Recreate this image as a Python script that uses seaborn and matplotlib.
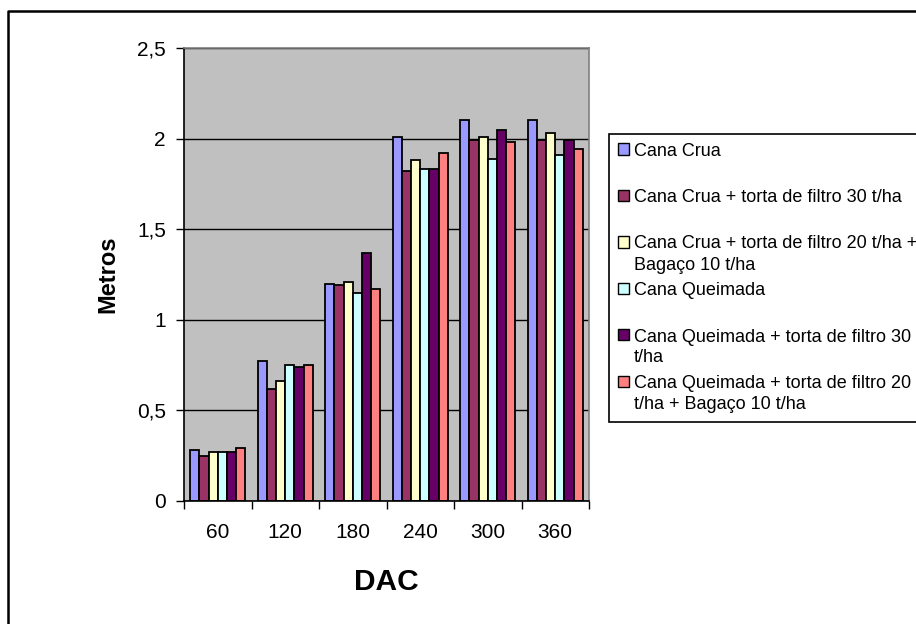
import numpy as np
import pandas as pd
import seaborn as sns
import matplotlib
matplotlib.use("Agg")
import matplotlib.pyplot as plt
from matplotlib.patches import Rectangle
from matplotlib.lines import Line2D
from matplotlib.ticker import FixedLocator

# ---------------- data ----------------
dac = ["60", "120", "180", "240", "300", "360"]
treatments = [
    "Cana Crua",
    "Cana Crua + torta de filtro 30 t/ha",
    "Cana Crua + torta de filtro 20 t/ha +\nBagaço 10 t/ha",
    "Cana Queimada",
    "Cana Queimada + torta de filtro 30\nt/ha",
    "Cana Queimada + torta de filtro 20\nt/ha + Bagaço 10 t/ha",
]
cana_crua = [0.28, 0.77, 1.20, 2.01, 2.10, 2.10]
crua_torta30 = [0.25, 0.62, 1.19, 1.82, 1.99, 1.99]
crua_torta20_bagaco = [0.27, 0.66, 1.21, 1.88, 2.01, 2.03]
queimada = [0.27, 0.75, 1.15, 1.83, 1.89, 1.91]
queimada_torta30 = [0.27, 0.74, 1.37, 1.83, 2.05, 1.99]
queimada_torta20_bagaco = [0.29, 0.75, 1.17, 1.92, 1.98, 1.94]
series = [cana_crua, crua_torta30, crua_torta20_bagaco,
          queimada, queimada_torta30, queimada_torta20_bagaco]
colors = ["#9999FF", "#993366", "#FFFFCC", "#CCFFFF", "#660066", "#FF8080"]
yticks = [0, 0.5, 1, 1.5, 2, 2.5]
ytick_labels = ["0", "0,5", "1", "1,5", "2", "2,5"]

rows = []
for t, vals in zip(treatments, series):
    for d, v in zip(dac, vals):
        rows.append({"DAC": d, "Metros": v, "Tratamento": t})
df = pd.DataFrame(rows)

# ---------------- style ----------------
sns.set_style("white")
plt.rcParams["font.family"] = ["Liberation Sans", "DejaVu Sans"]
for k in ["text.color", "axes.labelcolor", "xtick.color", "ytick.color"]:
    plt.rcParams[k] = "black"

W, H = 916, 624
fig = plt.figure(figsize=(W / 100, H / 100), dpi=100)

def fx(px):
    return px / W

def fy(py):
    return 1 - py / H

L, R, T, B = 184, 589, 48, 501
ax = fig.add_axes([fx(L), fy(B), (R - L) / W, (B - T) / H])
ax.set_facecolor("#C0C0C0")

sns.barplot(data=df, x="DAC", y="Metros", hue="Tratamento",
            hue_order=treatments, order=dac, palette=colors,
            saturation=1, width=0.82, edgecolor="black", linewidth=1.3,
            legend=False, ax=ax, errorbar=None)

ax.set_ylim(0, 2.5)
ax.set_xlim(-0.5, len(dac) - 0.5)
ax.set_axisbelow(True)
ax.yaxis.grid(True, color="black", linewidth=1)
ax.xaxis.grid(False)

ax.set_yticks(yticks)
ax.set_yticklabels(ytick_labels)
ax.tick_params(axis="y", which="major", direction="out", length=6, width=1,
               color="black", labelcolor="black", labelsize=15, pad=7, left=True)
ax.tick_params(axis="x", which="major", length=0, labelsize=15,
               labelcolor="black", pad=16)
ax.xaxis.set_minor_locator(FixedLocator(np.arange(-0.5, len(dac), 1.0)))
ax.tick_params(axis="x", which="minor", direction="out", length=6, width=1,
               color="black", bottom=True)

for s in ["left", "bottom"]:
    ax.spines[s].set_color("black")
    ax.spines[s].set_linewidth(1.2)
for s in ["top", "right"]:
    ax.spines[s].set_color("#808080")
    ax.spines[s].set_linewidth(1.2)

ax.set_xlabel("DAC", fontsize=21.5, fontweight="bold", color="black")
ax.set_ylabel("Metros", fontsize=17, fontweight="bold", color="black")
ax.xaxis.set_label_coords(0.5, (B - 582) / (B - T))
ax.xaxis.label.set_va("center")
ax.yaxis.set_label_coords((108 - L) / (R - L), 0.5)
ax.yaxis.label.set_va("center")

# ---------------- figure border (left & top visible) ----------------
fig.add_artist(Line2D([fx(8), fx(8), 1.0], [0.0, fy(11), fy(11)],
                      transform=fig.transFigure, color="black", linewidth=1.8))

# ---------------- legend ----------------
leg_top, leg_bot, leg_left = 134, 422, 609
fig.add_artist(Rectangle((fx(leg_left), fy(leg_bot)), 1.0,
                         (leg_bot - leg_top) / H, transform=fig.transFigure,
                         facecolor="white", edgecolor="black", linewidth=1.2))
first_y = 149
step = 46.5
line_gap = 21
sq = 11
for i, (lab, col) in enumerate(zip(treatments, colors)):
    yc = first_y + i * step
    fig.add_artist(Rectangle((fx(618), fy(yc + sq / 2)), sq / W, sq / H,
                             transform=fig.transFigure, facecolor=col,
                             edgecolor="black", linewidth=1))
    for k, line in enumerate(lab.split("\n")):
        fig.text(fx(634), fy(yc + k * line_gap), line, fontsize=13,
                 ha="left", va="center_baseline", color="black")

fig.savefig("out.png", dpi=100)
